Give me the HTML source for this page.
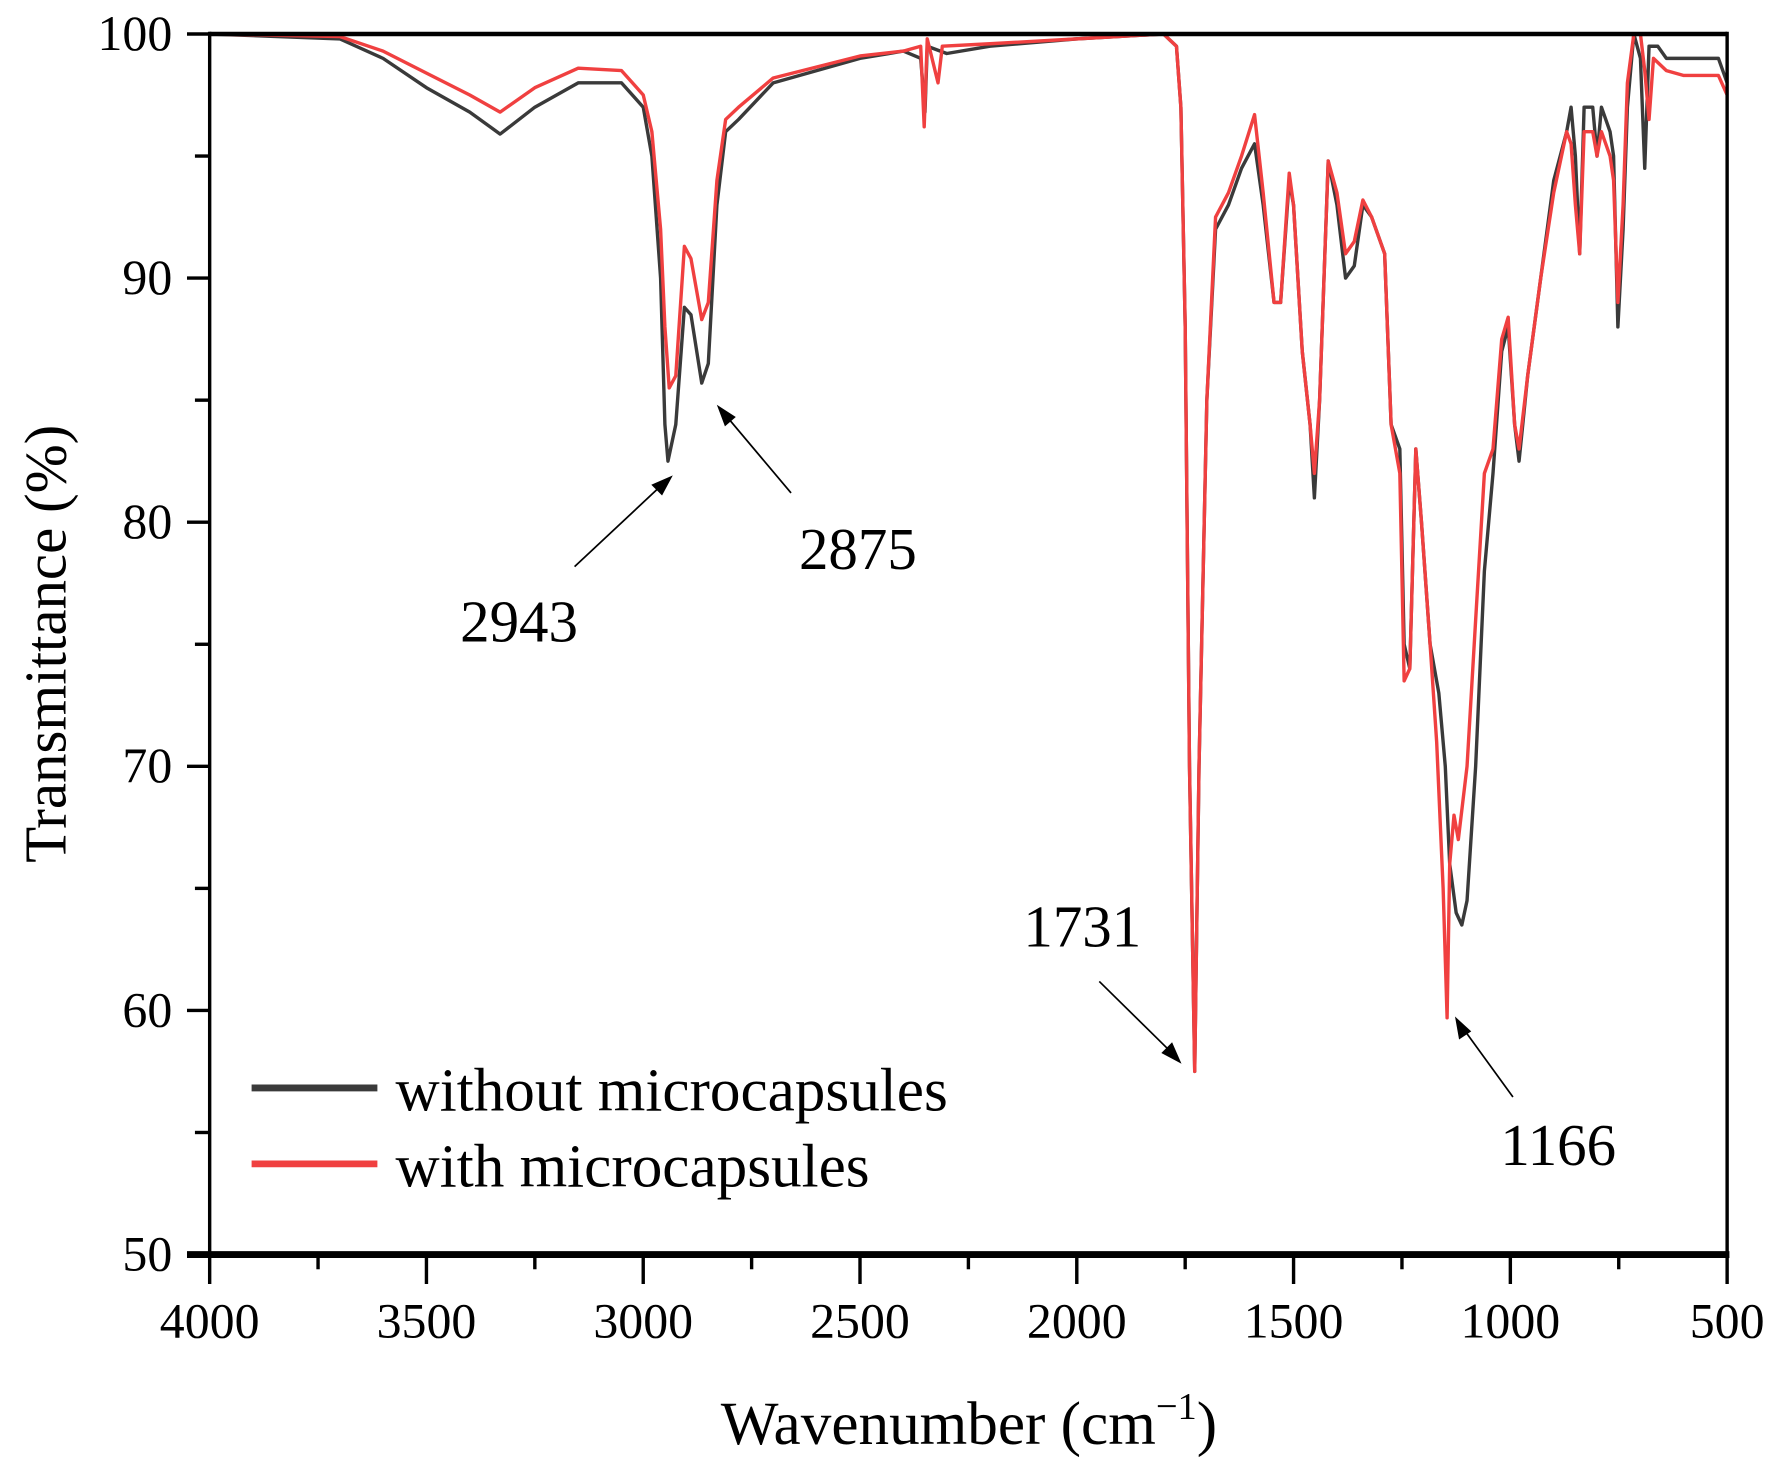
<!DOCTYPE html>
<html><head><meta charset="utf-8"><style>html,body{margin:0;padding:0;background:#fff}svg{display:block}</style></head>
<body>
<svg id="s" width="1777" height="1471" viewBox="0 0 1568 1298" xmlns="http://www.w3.org/2000/svg" font-family="Liberation Serif, serif">
<rect width="1568" height="1298" fill="#fff"/>
<g id="curves" fill="none" stroke-width="3" stroke-linejoin="round"></g>
<g stroke="#000" fill="none">
<line x1="185" y1="30" x2="1524" y2="30" stroke-width="4"/>
<line x1="185" y1="28" x2="185" y2="1110" stroke-width="3"/>
<line x1="1524" y1="28" x2="1524" y2="1110" stroke-width="3"/>
<line x1="165" y1="1107" x2="1526" y2="1107" stroke-width="6"/>
</g>
<g id="ticks" stroke="#000" stroke-width="3"></g>
<g font-size="44" fill="#000" text-anchor="end" id="ylab"></g>
<g font-size="44" fill="#000" text-anchor="middle" id="xlab"></g>
<text transform="translate(58,568) rotate(-90)" font-size="52" text-anchor="middle">Transmittance (%)</text>
<text x="855" y="1274" font-size="54" text-anchor="middle">Wavenumber (cm<tspan dy="-22" font-size="34">−1</tspan><tspan dy="22">)</tspan></text>
<g font-size="52" text-anchor="middle">
<text x="458" y="566">2943</text>
<text x="757" y="502">2875</text>
<text x="955" y="835">1731</text>
<text x="1375" y="1028">1166</text>
</g>
<g stroke="#000" stroke-width="1.5" fill="#000">
<line x1="507" y1="500" x2="585" y2="427"/><polygon points="592,421 576,428 584,436"/>
<line x1="698" y1="435" x2="640" y2="366"/><polygon points="634,359 640,375 648,368"/>
<line x1="970" y1="866" x2="1035" y2="930"/><polygon points="1041,937 1034,921 1026,929"/>
<line x1="1335" y1="968" x2="1290" y2="906"/><polygon points="1285,899 1288,916 1297,910"/>
</g>
<line x1="222" y1="960" x2="333" y2="960" stroke="#3a3a3a" stroke-width="6"/>
<text x="349" y="980" font-size="54">without microcapsules</text>
<line x1="222" y1="1027" x2="333" y2="1027" stroke="#f04040" stroke-width="6"/>
<text x="349" y="1047" font-size="54">with microcapsules</text>
</svg>
<script>
var X=function(w){return 185+(4000-w)*1339/3500},Y=function(t){return 30+(100-t)*21.54};
var B=[[4000,100],[3700,99.8],[3600,99],[3500,97.8],[3400,96.8],[3330,95.9],[3250,97],[3150,98],[3050,98],[3000,97],[2980,95],[2960,90],[2950,84],[2943,82.5],[2925,84],[2905,88.8],[2890,88.5],[2865,85.7],[2850,86.5],[2830,93],[2810,96],[2780,96.5],[2700,98],[2500,99],[2400,99.3],[2360,99],[2350,96.8],[2345,99.5],[2300,99.2],[2200,99.5],[2000,99.8],[1800,100],[1770,99.5],[1760,97],[1750,88],[1740,70],[1728,57.5],[1718,70],[1700,85],[1680,92],[1650,93],[1620,94.5],[1590,95.5],[1570,93],[1545,89],[1530,89],[1510,94],[1500,93],[1480,87],[1462,84],[1452,81],[1440,85],[1420,94.8],[1400,93],[1380,90],[1360,90.5],[1340,93],[1320,92.5],[1290,91],[1275,84],[1255,83],[1245,75],[1232,74],[1218,83],[1205,80],[1185,75],[1165,73],[1150,70],[1140,66],[1125,64],[1112,63.5],[1100,64.5],[1080,70],[1060,78],[1040,82],[1020,87],[1005,88],[990,84],[980,82.5],[960,86],[930,90],[900,94],[870,96],[860,97],[850,95],[840,91],[830,97],[810,97],[800,95],[790,97],[770,96],[762,95],[752,88],[740,92],[730,97],[715,100],[700,99],[690,94.5],[680,99.5],[660,99.5],[640,99],[600,99],[520,99],[500,98]];
var R=[[4000,100],[3700,99.9],[3600,99.3],[3500,98.4],[3400,97.5],[3330,96.8],[3250,97.8],[3150,98.6],[3050,98.5],[3000,97.5],[2980,96],[2960,92],[2950,88],[2940,85.5],[2925,86],[2905,91.3],[2890,90.8],[2865,88.3],[2850,89],[2830,94],[2810,96.5],[2780,97],[2700,98.2],[2500,99.1],[2400,99.3],[2360,99.5],[2352,96.2],[2345,99.8],[2320,98],[2310,99.5],[2200,99.6],[2000,99.8],[1800,100],[1770,99.5],[1760,97],[1750,88],[1740,70],[1728,57.5],[1718,70],[1700,85],[1680,92.5],[1650,93.5],[1620,95],[1590,96.7],[1570,93.5],[1545,89],[1530,89],[1510,94.3],[1500,93],[1480,87],[1462,84],[1452,82],[1440,85],[1420,94.8],[1400,93.5],[1380,91],[1360,91.5],[1340,93.2],[1320,92.5],[1290,91],[1275,84],[1255,82],[1245,73.5],[1232,74],[1218,83],[1205,80],[1185,75],[1170,71],[1155,65],[1146,59.7],[1140,66],[1130,68],[1120,67],[1100,70],[1080,76],[1060,82],[1040,83],[1020,87.5],[1005,88.4],[990,84],[980,83],[960,86],[930,90],[900,93.5],[870,96],[860,95.5],[850,93],[840,91],[830,96],[810,96],[800,95],[790,96],[770,95],[762,94],[752,89],[740,93],[730,98],[715,100],[700,100],[690,98.5],[680,96.5],[670,99],[640,98.5],[600,98.3],[520,98.3],[500,97.5]];
function path(d){return d.map(function(p,i){return (i?'L':'M')+X(p[0]).toFixed(1)+','+Y(p[1]).toFixed(1)}).join('')}
var c=document.getElementById('curves');
c.innerHTML='<path d="'+path(B)+'" stroke="#3a3a3a"/><path d="'+path(R)+'" stroke="#f04040"/>';
var t='',yl='',xl='';
for(var v=50;v<=100;v+=5){var y=Y(v);t+='<line x1="'+(v%10==0?165:172)+'" y1="'+y+'" x2="185" y2="'+y+'"/>';if(v%10==0)yl+='<text x="152" y="'+(y+14)+'">'+v+'</text>';}
for(var w=4000;w>=500;w-=250){var x=X(w);t+='<line x1="'+x+'" y1="1107" x2="'+x+'" y2="'+(w%500==0?1133:1120)+'"/>';if(w%500==0)xl+='<text x="'+x+'" y="1180">'+w+'</text>';}
document.getElementById('ticks').innerHTML=t;document.getElementById('ylab').innerHTML=yl;document.getElementById('xlab').innerHTML=xl;
</script>
</body></html>
